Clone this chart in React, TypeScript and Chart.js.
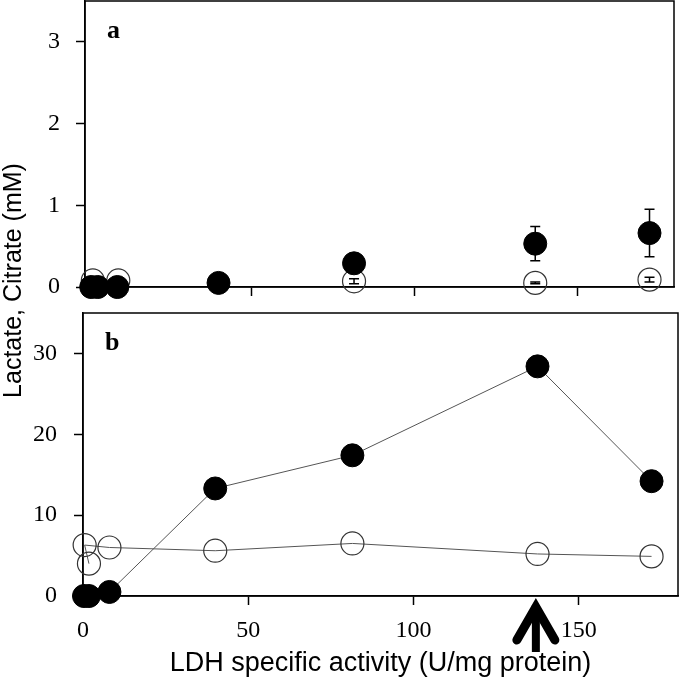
import React, { useEffect, useRef } from 'react';
import { Chart, registerables } from 'chart.js';
Chart.register(...registerables);

// ---- Panel a: citrate (mM)
const activityFilledA = [1, 3, 9, 40, 81.5, 137, 172];
const citrateFilled = [0, 0, 0, 0.05, 0.29, 0.53, 0.66];
const citrateFilledErr = [0, 0, 0, 0, 0, 0.21, 0.29];
const activityOpenA = [1.5, 9.3, 81.5, 137, 172];
const citrateOpen = [0.08, 0.08, 0.07, 0.05, 0.09];
const citrateOpenErr = [0.04, 0.03, 0.03, 0.01, 0.03];

// ---- Panel b: lactate (mM)
const activityFilledB = [0.3, 1.8, 8, 40, 81.5, 137.5, 172];
const lactateFilled = [0, 0, 0.5, 13.3, 17.4, 28.4, 14.2];
const activityOpenB = [1.8, 0.5, 8, 40, 81.5, 137.5, 172];
const lactateOpen = [4.0, 6.3, 6.0, 5.6, 6.5, 5.2, 4.9];

// ---- Ticks / labels
const xTicksA = [50, 100, 150];
const xTicksB = [0, 50, 100, 150];
const yTicksA = [0, 1, 2, 3];
const yTicksB = [0, 10, 20, 30];
const arrowAt = 137;
const xTitle = 'LDH specific activity (U/mg protein)';
const yTitle = 'Lactate, Citrate (mM)';

const pts = (xs: number[], ys: number[]) => xs.map((x, i) => ({ x, y: ys[i] }));

const noPad = (s: any) => {
  s.paddingLeft = 0;
  s.paddingRight = 0;
  s.paddingTop = 0;
  s.paddingBottom = 0;
};

const boxPlugin = {
  id: 'box',
  beforeDatasetsDraw(chart: any) {
    const { ctx, chartArea: a } = chart;
    ctx.save();
    ctx.strokeStyle = '#000';
    ctx.lineWidth = 1.5;
    ctx.strokeRect(a.left, a.top, a.right - a.left, a.bottom - a.top);
    ctx.restore();
  },
};

const errorBars = (sets: { xs: number[]; ys: number[]; es: number[] }[]) => ({
  id: 'errbars',
  beforeDatasetsDraw(chart: any) {
    const { ctx } = chart;
    const xs = chart.scales.x;
    const ysc = chart.scales.y;
    ctx.save();
    ctx.strokeStyle = '#000';
    ctx.lineWidth = 1.5;
    sets.forEach((s) => {
      s.xs.forEach((x, i) => {
        const e = s.es[i];
        if (!e) return;
        const px = xs.getPixelForValue(x);
        const p1 = ysc.getPixelForValue(s.ys[i] + e);
        const p2 = ysc.getPixelForValue(s.ys[i] - e);
        ctx.beginPath();
        ctx.moveTo(px, p1);
        ctx.lineTo(px, p2);
        ctx.moveTo(px - 5, p1);
        ctx.lineTo(px + 5, p1);
        ctx.moveTo(px - 5, p2);
        ctx.lineTo(px + 5, p2);
        ctx.stroke();
      });
    });
    ctx.restore();
  },
});

const panelLabel = (txt: string) => ({
  id: 'panelLabel',
  afterDraw(chart: any) {
    const { ctx, chartArea: a } = chart;
    ctx.save();
    ctx.fillStyle = '#000';
    ctx.font = 'bold 26px "Liberation Serif"';
    ctx.textAlign = 'left';
    ctx.textBaseline = 'alphabetic';
    ctx.fillText(txt, a.left + 22, a.top + 37);
    ctx.restore();
  },
});

const extrasB = {
  id: 'extrasB',
  afterDraw(chart: any) {
    const { ctx, chartArea: a } = chart;
    ctx.save();
    // y-axis title spanning both panels
    ctx.fillStyle = '#000';
    ctx.font = '25px "Liberation Sans"';
    ctx.translate(21, 280.5);
    ctx.rotate(-Math.PI / 2);
    ctx.textAlign = 'center';
    ctx.textBaseline = 'alphabetic';
    ctx.fillText(yTitle, 0, 0);
    ctx.restore();

    // arrow marking the selected activity
    const x = chart.scales.x.getPixelForValue(arrowAt);
    const tip = a.bottom + 1;
    ctx.save();
    ctx.strokeStyle = '#000';
    ctx.lineWidth = 8;
    ctx.lineCap = 'butt';
    ctx.beginPath();
    ctx.moveTo(x, tip + 8);
    ctx.lineTo(x, tip + 55);
    ctx.stroke();
    ctx.lineWidth = 9;
    ctx.lineCap = 'round';
    ctx.lineJoin = 'miter';
    ctx.beginPath();
    ctx.moveTo(x - 19, tip + 43);
    ctx.lineTo(x, tip + 10);
    ctx.lineTo(x + 19, tip + 43);
    ctx.stroke();
    ctx.restore();
  },
};

const axisCommon = {
  grid: { display: true, drawOnChartArea: false, drawTicks: true, tickLength: 9, tickColor: '#000', tickWidth: 1.5, color: '#000' },
  border: { display: true, color: '#000', width: 1.5 },
};

export default function App() {
  const refA = useRef<HTMLCanvasElement>(null);
  const refB = useRef<HTMLCanvasElement>(null);

  useEffect(() => {
    document.body.style.margin = '0';
    const chartB = new Chart(refB.current as HTMLCanvasElement, {
      type: 'scatter',
      data: {
        datasets: [
          {
            data: pts(activityFilledB, lactateFilled),
            showLine: true,
            borderColor: '#555',
            borderWidth: 1,
            pointRadius: 11.5,
            pointBackgroundColor: '#000',
            pointBorderColor: '#000',
            pointBorderWidth: 1,
            clip: false,
          } as any,
          {
            data: pts(activityOpenB, lactateOpen),
            showLine: true,
            borderColor: '#555',
            borderWidth: 1,
            pointRadius: 11.5,
            pointBackgroundColor: 'rgba(255,255,255,0)',
            pointBorderColor: '#333',
            pointBorderWidth: 1.2,
            clip: false,
          } as any,
        ],
      },
      options: {
        responsive: false,
        animation: false,
        events: [],
        layout: { autoPadding: false, padding: { top: 313, right: 2, left: 0, bottom: 0 } },
        plugins: { legend: { display: false }, tooltip: { enabled: false } },
        scales: {
          x: {
            type: 'linear',
            min: 0,
            max: 180,
            afterBuildTicks: (s: any) => { s.ticks = xTicksB.map((v) => ({ value: v })); },
            afterFit: (s: any) => { s.height = 86; noPad(s); },
            ticks: { font: { family: 'Liberation Serif', size: 24 }, color: '#000', padding: 11, maxRotation: 0, autoSkip: false },
            title: { display: true, text: xTitle, color: '#000', font: { family: 'Liberation Sans', size: 27 }, padding: { top: 0, bottom: 2 } },
            ...axisCommon,
          },
          y: {
            type: 'linear',
            min: 0,
            max: 35,
            afterBuildTicks: (s: any) => { s.ticks = yTicksB.map((v) => ({ value: v })); },
            afterFit: (s: any) => { s.width = 83; noPad(s); },
            ticks: { font: { family: 'Liberation Serif', size: 24 }, color: '#000', padding: 17 },
            ...axisCommon,
          },
        },
      } as any,
      plugins: [boxPlugin, panelLabel('b'), extrasB],
    });

    const chartA = new Chart(refA.current as HTMLCanvasElement, {
      type: 'scatter',
      data: {
        datasets: [
          {
            data: pts(activityFilledA, citrateFilled),
            pointRadius: 11.5,
            pointBackgroundColor: '#000',
            pointBorderColor: '#000',
            pointBorderWidth: 1,
            clip: false,
          } as any,
          {
            data: pts(activityOpenA, citrateOpen),
            pointRadius: 11.5,
            pointBackgroundColor: 'rgba(255,255,255,0)',
            pointBorderColor: '#333',
            pointBorderWidth: 1.2,
            clip: false,
          } as any,
        ],
      },
      options: {
        responsive: false,
        animation: false,
        events: [],
        layout: { autoPadding: false, padding: { top: 1, right: 6, left: 0, bottom: 0 } },
        plugins: { legend: { display: false }, tooltip: { enabled: false } },
        scales: {
          x: {
            type: 'linear',
            min: -0.9,
            max: 179.5,
            afterBuildTicks: (s: any) => { s.ticks = xTicksA.map((v) => ({ value: v })); },
            afterFit: (s: any) => { s.height = 13; noPad(s); },
            ticks: { display: false },
            ...axisCommon,
          },
          y: {
            type: 'linear',
            min: 0,
            max: 3.5,
            afterBuildTicks: (s: any) => { s.ticks = yTicksA.map((v) => ({ value: v })); },
            afterFit: (s: any) => { s.width = 85; noPad(s); },
            ticks: { font: { family: 'Liberation Serif', size: 24 }, color: '#000', padding: 16 },
            ...axisCommon,
          },
        },
      } as any,
      plugins: [
        boxPlugin,
        errorBars([
          { xs: activityFilledA, ys: citrateFilled, es: citrateFilledErr },
          { xs: activityOpenA, ys: citrateOpen, es: citrateOpenErr },
        ]),
        panelLabel('a'),
      ],
    });

    return () => {
      chartA.destroy();
      chartB.destroy();
    };
  }, []);

  return (
    <div style={{ position: 'fixed', left: 0, top: 0, width: 680, height: 682, background: '#fff' }}>
      <canvas ref={refB} width={680} height={682} style={{ position: 'absolute', left: 0, top: 0, display: 'block' }} />
      <canvas ref={refA} width={680} height={300} style={{ position: 'absolute', left: 0, top: 0, display: 'block' }} />
    </div>
  );
}
